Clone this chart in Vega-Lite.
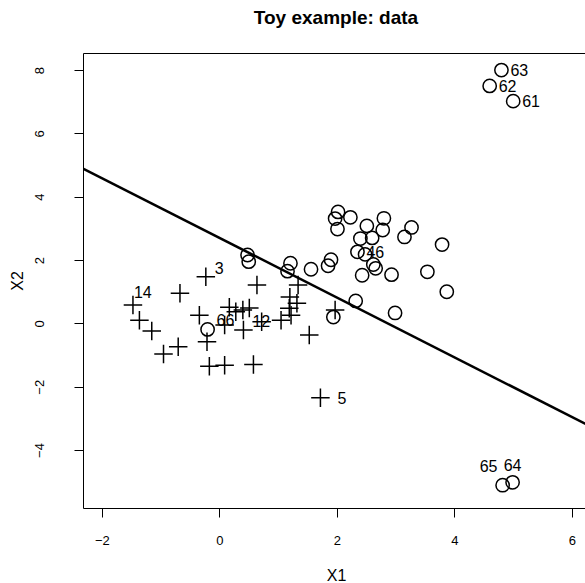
{
  "$schema": "https://vega.github.io/schema/vega-lite/v6.json",
  "autosize": {"type": "none"},
  "padding": {"left": 83, "top": 53, "right": 0, "bottom": 75},
  "width": 506,
  "height": 455,
  "background": "white",
  "config": {
    "view": {"stroke": "black", "strokeWidth": 1},
    "font": "Liberation Sans",
    "axis": {"grid": false, "domain": false, "tickColor": "black", "tickSize": 9, "tickWidth": 1, "labelColor": "black", "titleColor": "black", "labelFont": "Liberation Sans", "titleFont": "Liberation Sans", "titleFontWeight": "normal", "labelFontSize": 13, "titleFontSize": 16}
  },
  "title": {"text": "Toy example: data", "fontSize": 19, "fontWeight": "bold", "font": "Liberation Sans", "anchor": "middle", "baseline": "alphabetic", "offset": 10, "color": "black"},
  "datasets": {
    "pts": [
      {"X1": -1.47, "X2": 0.58, "cls": "+", "label": "14"},
      {"X1": -1.36, "X2": 0.10, "cls": "+"},
      {"X1": -1.15, "X2": -0.24, "cls": "+"},
      {"X1": -0.95, "X2": -0.97, "cls": "+"},
      {"X1": -0.70, "X2": -0.74, "cls": "+"},
      {"X1": -0.67, "X2": 0.95, "cls": "+"},
      {"X1": -0.23, "X2": 1.47, "cls": "+", "label": "3"},
      {"X1": -0.34, "X2": 0.26, "cls": "+"},
      {"X1": -0.21, "X2": -0.58, "cls": "+"},
      {"X1": -0.17, "X2": -1.35, "cls": "+"},
      {"X1": 0.09, "X2": -1.32, "cls": "+"},
      {"X1": 0.58, "X2": -1.30, "cls": "+"},
      {"X1": 0.09, "X2": -0.05, "cls": "+"},
      {"X1": 0.17, "X2": 0.51, "cls": "+"},
      {"X1": 0.28, "X2": 0.37, "cls": "+"},
      {"X1": 0.40, "X2": 0.42, "cls": "+"},
      {"X1": 0.51, "X2": 0.49, "cls": "+"},
      {"X1": 0.41, "X2": -0.21, "cls": "+", "label": "12"},
      {"X1": 0.64, "X2": 1.21, "cls": "+"},
      {"X1": 0.72, "X2": 0.05, "cls": "+"},
      {"X1": 1.05, "X2": 0.10, "cls": "+"},
      {"X1": 1.20, "X2": 0.83, "cls": "+"},
      {"X1": 1.19, "X2": 0.48, "cls": "+"},
      {"X1": 1.22, "X2": 0.26, "cls": "+"},
      {"X1": 1.34, "X2": 1.21, "cls": "+"},
      {"X1": 1.32, "X2": 0.64, "cls": "+"},
      {"X1": 1.53, "X2": -0.37, "cls": "+"},
      {"X1": 1.97, "X2": 0.42, "cls": "+"},
      {"X1": 1.72, "X2": -2.35, "cls": "+", "label": "5"},
      {"X1": -0.20, "X2": -0.19, "cls": "o", "label": "66"},
      {"X1": 0.48, "X2": 2.16, "cls": "o"},
      {"X1": 0.50, "X2": 1.95, "cls": "o"},
      {"X1": 1.21, "X2": 1.90, "cls": "o"},
      {"X1": 1.16, "X2": 1.65, "cls": "o"},
      {"X1": 1.56, "X2": 1.71, "cls": "o"},
      {"X1": 1.85, "X2": 1.82, "cls": "o"},
      {"X1": 1.90, "X2": 2.01, "cls": "o"},
      {"X1": 2.02, "X2": 3.52, "cls": "o"},
      {"X1": 1.97, "X2": 3.31, "cls": "o"},
      {"X1": 2.23, "X2": 3.35, "cls": "o"},
      {"X1": 2.01, "X2": 2.98, "cls": "o"},
      {"X1": 2.80, "X2": 3.32, "cls": "o"},
      {"X1": 2.51, "X2": 3.08, "cls": "o"},
      {"X1": 2.78, "X2": 2.95, "cls": "o"},
      {"X1": 3.27, "X2": 3.03, "cls": "o"},
      {"X1": 3.15, "X2": 2.73, "cls": "o"},
      {"X1": 2.40, "X2": 2.68, "cls": "o"},
      {"X1": 2.60, "X2": 2.70, "cls": "o"},
      {"X1": 3.79, "X2": 2.49, "cls": "o"},
      {"X1": 2.35, "X2": 2.26, "cls": "o", "label": "46"},
      {"X1": 2.48, "X2": 2.18, "cls": "o"},
      {"X1": 2.62, "X2": 1.86, "cls": "o"},
      {"X1": 2.66, "X2": 1.74, "cls": "o"},
      {"X1": 2.43, "X2": 1.52, "cls": "o"},
      {"X1": 2.93, "X2": 1.54, "cls": "o"},
      {"X1": 3.54, "X2": 1.63, "cls": "o"},
      {"X1": 3.87, "X2": 1.00, "cls": "o"},
      {"X1": 2.32, "X2": 0.71, "cls": "o"},
      {"X1": 2.99, "X2": 0.33, "cls": "o"},
      {"X1": 1.94, "X2": 0.20, "cls": "o"},
      {"X1": 5.00, "X2": 7.02, "cls": "o", "label": "61"},
      {"X1": 4.60, "X2": 7.50, "cls": "o", "label": "62"},
      {"X1": 4.80, "X2": 8.00, "cls": "o", "label": "63"},
      {"X1": 4.99, "X2": -5.02, "cls": "o", "label": "64"},
      {"X1": 4.82, "X2": -5.11, "cls": "o", "label": "65"}
    ],
    "boundary": [
      {"X1": -2.32, "X2": 4.89},
      {"X1": 6.29, "X2": -3.23}
    ]
  },
  "encoding": {
    "x": {"field": "X1", "type": "quantitative", "scale": {"domain": [-2.32, 6.29], "nice": false, "zero": false}, "axis": {"values": [-2, 0, 2, 4, 6], "title": "X1", "labelPadding": 17, "titlePadding": 20, "labelExpr": "replace(datum.label, '-', '\u2212')"}},
    "y": {"field": "X2", "type": "quantitative", "scale": {"domain": [-5.83, 8.54], "nice": false, "zero": false}, "axis": {"values": [-4, -2, 0, 2, 4, 6, 8], "title": "X2", "labelAngle": 270, "labelAlign": "center", "labelBaseline": "bottom", "labelPadding": 28, "titlePadding": 8, "labelExpr": "replace(datum.label, '-', '\u2212')"}}
  },
  "layer": [
    {
      "data": {"name": "boundary"},
      "mark": {"type": "line", "color": "black", "strokeWidth": 2.5, "clip": true},
      "encoding": {}
    },
    {
      "data": {"name": "pts"},
      "transform": [{"filter": "datum.cls === 'o'"}],
      "mark": {"type": "point", "shape": "circle", "filled": false, "stroke": "black", "strokeWidth": 1.5, "size": 177, "opacity": 1}
    },
    {
      "data": {"name": "pts"},
      "transform": [{"filter": "datum.cls === '+'"}],
      "mark": {"type": "point", "shape": "M-1,0L1,0M0,-1L0,1", "filled": false, "stroke": "black", "strokeWidth": 1.5, "size": 342, "opacity": 1}
    },
    {
      "data": {"name": "pts"},
      "transform": [{"filter": {"field": "label", "oneOf": ["61", "62", "63", "46"]}}],
      "mark": {"type": "text", "align": "left", "baseline": "middle", "dx": 9, "dy": 1, "fontSize": 16, "color": "black"},
      "encoding": {"text": {"field": "label"}}
    },
    {
      "data": {"name": "pts"},
      "transform": [{"filter": {"field": "label", "oneOf": ["5"]}}],
      "mark": {"type": "text", "align": "left", "baseline": "middle", "dx": 17, "dy": 1, "fontSize": 16, "color": "black"},
      "encoding": {"text": {"field": "label"}}
    },
    {
      "data": {"name": "pts"},
      "transform": [{"filter": {"field": "label", "oneOf": ["3", "66", "12"]}}],
      "mark": {"type": "text", "align": "left", "baseline": "middle", "dx": 9, "dy": -8, "fontSize": 16, "color": "black"},
      "encoding": {"text": {"field": "label"}}
    },
    {
      "data": {"name": "pts"},
      "transform": [{"filter": {"field": "label", "oneOf": ["14"]}}],
      "mark": {"type": "text", "align": "left", "baseline": "middle", "dx": 1, "dy": -12, "fontSize": 16, "color": "black"},
      "encoding": {"text": {"field": "label"}}
    },
    {
      "data": {"name": "pts"},
      "transform": [{"filter": {"field": "label", "oneOf": ["64"]}}],
      "mark": {"type": "text", "align": "center", "baseline": "middle", "dx": 0, "dy": -16, "fontSize": 16, "color": "black"},
      "encoding": {"text": {"field": "label"}}
    },
    {
      "data": {"name": "pts"},
      "transform": [{"filter": {"field": "label", "oneOf": ["65"]}}],
      "mark": {"type": "text", "align": "center", "baseline": "middle", "dx": -14, "dy": -18, "fontSize": 16, "color": "black"},
      "encoding": {"text": {"field": "label"}}
    }
  ]
}
